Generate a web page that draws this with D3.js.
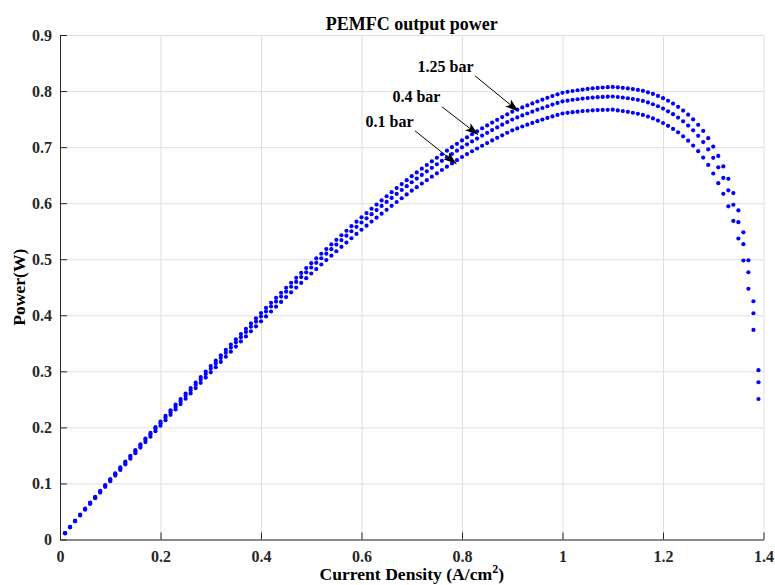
<!DOCTYPE html>
<html>
<head>
<meta charset="utf-8">
<script src="https://cdn.jsdelivr.net/npm/d3@7"></script>
<style>
  html, body { margin: 0; padding: 0; background: #fff; overflow: hidden; }
  svg { display: block; }
  text { font-family: "Liberation Serif", "Times New Roman", serif; font-weight: bold; }
  .axis path, .axis line { stroke: #262626; }
  .axis text { fill: #262626; font-size: 16px; }
  .grid line { stroke: #dfdfdf; }
  .grid path { stroke: none; }
</style>
</head>
<body>
<div id="chart"></div>
<script>
// Current density (A/cm^2), shared by all three series
const currentDensity = [
  0.01,0.02,0.03,0.04,0.05,0.06,0.07,0.08,0.09,0.10,
  0.11,0.12,0.13,0.14,0.15,0.16,0.17,0.18,0.19,0.20,
  0.21,0.22,0.23,0.24,0.25,0.26,0.27,0.28,0.29,0.30,
  0.31,0.32,0.33,0.34,0.35,0.36,0.37,0.38,0.39,0.40,
  0.41,0.42,0.43,0.44,0.45,0.46,0.47,0.48,0.49,0.50,
  0.51,0.52,0.53,0.54,0.55,0.56,0.57,0.58,0.59,0.60,
  0.61,0.62,0.63,0.64,0.65,0.66,0.67,0.68,0.69,0.70,
  0.71,0.72,0.73,0.74,0.75,0.76,0.77,0.78,0.79,0.80,
  0.81,0.82,0.83,0.84,0.85,0.86,0.87,0.88,0.89,0.90,
  0.91,0.92,0.93,0.94,0.95,0.96,0.97,0.98,0.99,1.00,
  1.01,1.02,1.03,1.04,1.05,1.06,1.07,1.08,1.09,1.10,
  1.11,1.12,1.13,1.14,1.15,1.16,1.17,1.18,1.19,1.20,
  1.21,1.22,1.23,1.24,1.25,1.26,1.27,1.28,1.29,1.30,
  1.31,1.32,1.33,1.34,1.35,1.36,1.37,1.38,1.39
];

// Output power (W) at 1.25 bar
const power125 = [
  0.0114,0.0225,0.0335,0.0443,0.0550,0.0657,0.0762,0.0867,0.0972,0.1076,
  0.1181,0.1285,0.1389,0.1493,0.1596,0.1699,0.1801,0.1902,0.2003,0.2104,
  0.2205,0.2305,0.2405,0.2505,0.2604,0.2702,0.2801,0.2899,0.2996,0.3093,
  0.3190,0.3286,0.3382,0.3477,0.3572,0.3666,0.3760,0.3854,0.3947,0.4040,
  0.4131,0.4222,0.4312,0.4402,0.4491,0.4580,0.4668,0.4756,0.4843,0.4930,
  0.5014,0.5098,0.5181,0.5264,0.5346,0.5428,0.5508,0.5589,0.5669,0.5748,
  0.5824,0.5900,0.5975,0.6049,0.6123,0.6196,0.6269,0.6340,0.6411,0.6482,
  0.6549,0.6615,0.6681,0.6746,0.6810,0.6873,0.6936,0.6998,0.7059,0.7120,
  0.7175,0.7229,0.7282,0.7335,0.7387,0.7437,0.7487,0.7536,0.7585,0.7632,
  0.7670,0.7708,0.7744,0.7779,0.7814,0.7847,0.7879,0.7911,0.7941,0.7970,
  0.7986,0.8001,0.8014,0.8027,0.8038,0.8048,0.8056,0.8063,0.8069,0.8074,
  0.8066,0.8057,0.8047,0.8035,0.8021,0.8004,0.7978,0.7948,0.7913,0.7873,
  0.7827,0.7776,0.7718,0.7652,0.7578,0.7494,0.7398,0.7288,0.7160,0.7010,
  0.6842,0.6655,0.6435,0.6180,0.5870,0.5480,0.4980,0.4250,0.3020
];

// Output power (W) at 0.4 bar
const power04 = [
  0.0112,0.0222,0.0330,0.0437,0.0542,0.0648,0.0751,0.0855,0.0958,0.1060,
  0.1164,0.1266,0.1369,0.1471,0.1573,0.1674,0.1775,0.1874,0.1974,0.2073,
  0.2172,0.2271,0.2369,0.2468,0.2565,0.2662,0.2759,0.2856,0.2951,0.3046,
  0.3142,0.3236,0.3331,0.3424,0.3518,0.3610,0.3703,0.3795,0.3887,0.3978,
  0.4067,0.4157,0.4245,0.4334,0.4421,0.4509,0.4595,0.4682,0.4767,0.4852,
  0.4935,0.5017,0.5099,0.5180,0.5261,0.5341,0.5420,0.5499,0.5578,0.5655,
  0.5729,0.5804,0.5877,0.5950,0.6022,0.6094,0.6165,0.6235,0.6304,0.6373,
  0.6439,0.6503,0.6568,0.6631,0.6694,0.6755,0.6817,0.6877,0.6937,0.6996,
  0.7049,0.7102,0.7153,0.7205,0.7255,0.7304,0.7352,0.7400,0.7447,0.7492,
  0.7529,0.7565,0.7600,0.7633,0.7667,0.7698,0.7729,0.7759,0.7788,0.7815,
  0.7829,0.7843,0.7854,0.7866,0.7875,0.7884,0.7890,0.7896,0.7900,0.7903,
  0.7894,0.7883,0.7872,0.7858,0.7843,0.7824,0.7797,0.7765,0.7729,0.7687,
  0.7639,0.7587,0.7527,0.7460,0.7384,0.7299,0.7201,0.7090,0.6960,0.6808,
  0.6639,0.6450,0.6229,0.5972,0.5661,0.5269,0.4768,0.4036,0.2805
];

// Output power (W) at 0.1 bar
const power01 = [
  0.0110,0.0218,0.0324,0.0428,0.0531,0.0635,0.0736,0.0837,0.0939,0.1039,
  0.1140,0.1241,0.1341,0.1441,0.1540,0.1640,0.1738,0.1835,0.1933,0.2030,
  0.2127,0.2224,0.2320,0.2416,0.2511,0.2606,0.2701,0.2795,0.2889,0.2982,
  0.3075,0.3168,0.3260,0.3351,0.3442,0.3533,0.3623,0.3713,0.3803,0.3892,
  0.3979,0.4067,0.4153,0.4239,0.4324,0.4410,0.4494,0.4578,0.4662,0.4745,
  0.4825,0.4906,0.4985,0.5064,0.5142,0.5221,0.5297,0.5374,0.5451,0.5526,
  0.5598,0.5671,0.5742,0.5812,0.5882,0.5952,0.6021,0.6088,0.6156,0.6223,
  0.6286,0.6349,0.6411,0.6472,0.6532,0.6592,0.6651,0.6709,0.6767,0.6824,
  0.6875,0.6926,0.6975,0.7024,0.7072,0.7119,0.7165,0.7210,0.7256,0.7299,
  0.7333,0.7368,0.7400,0.7431,0.7462,0.7492,0.7520,0.7548,0.7575,0.7600,
  0.7612,0.7624,0.7633,0.7642,0.7649,0.7656,0.7660,0.7663,0.7666,0.7667,
  0.7655,0.7643,0.7629,0.7613,0.7595,0.7575,0.7545,0.7511,0.7473,0.7429,
  0.7379,0.7325,0.7263,0.7193,0.7115,0.7028,0.6928,0.6814,0.6683,0.6529,
  0.6357,0.6167,0.5943,0.5684,0.5370,0.4977,0.4473,0.3739,0.2506
];

// Axis ticks
const xTicks = [0, 0.2, 0.4, 0.6, 0.8, 1, 1.2, 1.4];
const yTicks = [0, 0.1, 0.2, 0.3, 0.4, 0.5, 0.6, 0.7, 0.8, 0.9];

// Arrow annotations (data units): label, tail [x, y], head [x, y]
const annotationLabels = ["1.25 bar", "0.4 bar", "0.1 bar"];
const annotationTails = [[0.826, 0.827], [0.760, 0.772], [0.7065, 0.729]];
const annotationHeads = [[0.912, 0.764], [0.832, 0.722], [0.789, 0.670]];

// Setup: dimensions and margins
const svgWidth = 775;
const svgHeight = 585;
const margin = { top: 35, right: 11.5, bottom: 45.5, left: 60 };
const innerWidth = svgWidth - margin.left - margin.right;
const innerHeight = svgHeight - margin.top - margin.bottom;

// Scales
const xScale = d3.scaleLinear().domain([0, 1.4]).range([0, innerWidth]);
const yScale = d3.scaleLinear().domain([0, 0.9]).range([innerHeight, 0]);
const fmt = d => String(+d.toFixed(1));

const svg = d3.select("#chart")
  .append("svg")
  .attr("width", svgWidth)
  .attr("height", svgHeight);

// Arrowhead marker
svg.append("defs")
  .append("marker")
  .attr("id", "arrowhead")
  .attr("viewBox", "0 0 13 9")
  .attr("refX", 13)
  .attr("refY", 4.5)
  .attr("markerUnits", "userSpaceOnUse")
  .attr("markerWidth", 13)
  .attr("markerHeight", 9)
  .attr("orient", "auto")
  .append("path")
  .attr("d", "M0,0 L13,4.5 L0,9 L3,4.5 Z")
  .attr("fill", "#000");

const g = svg.append("g")
  .attr("transform", `translate(${margin.left}, ${margin.top})`);

// Grid lines
const xGrid = g.append("g")
  .attr("class", "grid")
  .attr("transform", `translate(0, ${innerHeight})`)
  .call(d3.axisBottom(xScale).tickValues(xTicks).tickSize(-innerHeight));
xGrid.selectAll("text").remove();

const yGrid = g.append("g")
  .attr("class", "grid")
  .call(d3.axisLeft(yScale).tickValues(yTicks).tickSize(-innerWidth));
yGrid.selectAll("text").remove();

// Axes (ticks pointing inward)
g.append("g")
  .attr("class", "axis")
  .attr("transform", `translate(0, ${innerHeight})`)
  .call(d3.axisBottom(xScale).tickValues(xTicks).tickSize(-7).tickSizeOuter(0)
    .tickPadding(11).tickFormat(fmt));

g.append("g")
  .attr("class", "axis")
  .call(d3.axisLeft(yScale).tickValues(yTicks).tickSize(-7).tickSizeOuter(0)
    .tickPadding(8).tickFormat(fmt));

// Dots for each pressure
const seriesList = [power01, power04, power125];
seriesList.forEach(values => {
  g.append("g")
    .selectAll("circle")
    .data(values)
    .join("circle")
    .attr("cx", (d, i) => xScale(currentDensity[i]))
    .attr("cy", d => yScale(d))
    .attr("r", 2.1)
    .attr("fill", "#0000ff");
});

// Arrow annotations
annotationLabels.forEach((label, i) => {
  const [tx, ty] = annotationTails[i];
  const [hx, hy] = annotationHeads[i];
  g.append("line")
    .attr("x1", xScale(tx))
    .attr("y1", yScale(ty))
    .attr("x2", xScale(hx))
    .attr("y2", yScale(hy))
    .attr("stroke", "#000")
    .attr("stroke-width", 1)
    .attr("marker-end", "url(#arrowhead)");
  g.append("text")
    .attr("x", xScale(tx) - 1.5)
    .attr("y", yScale(ty) - 4.3)
    .attr("text-anchor", "end")
    .attr("font-size", 16)
    .attr("fill", "#000")
    .text(label);
});

// Title
svg.append("text")
  .attr("x", margin.left + innerWidth / 2)
  .attr("y", 29.5)
  .attr("text-anchor", "middle")
  .attr("font-size", 18)
  .attr("fill", "#000")
  .text("PEMFC output power");

// X axis label
const xLabel = svg.append("text")
  .attr("x", margin.left + innerWidth / 2)
  .attr("y", 580)
  .attr("text-anchor", "middle")
  .attr("font-size", 17.6)
  .attr("fill", "#000");
xLabel.append("tspan").text("Current Density (A/cm");
xLabel.append("tspan").attr("font-size", 12).attr("dy", -7).text("2");
xLabel.append("tspan").attr("dy", 7).text(")");

// Y axis label
svg.append("text")
  .attr("transform", `translate(25, ${margin.top + innerHeight / 2}) rotate(-90)`)
  .attr("text-anchor", "middle")
  .attr("font-size", 17.6)
  .attr("fill", "#000")
  .text("Power(W)");
</script>
</body>
</html>
